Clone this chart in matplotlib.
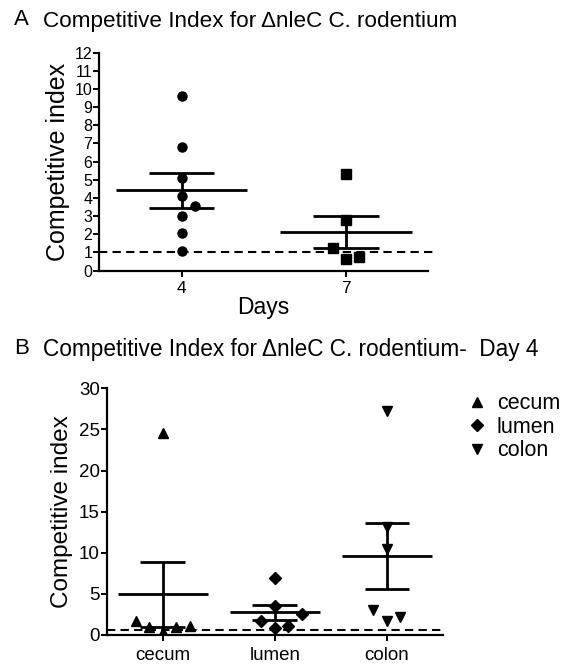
import numpy as np
import matplotlib
matplotlib.use("Agg")
import matplotlib.pyplot as plt
from matplotlib.lines import Line2D

plt.rcParams['font.family'] = ['Liberation Sans', 'DejaVu Sans']

# panel A: competitive index by day
days = ['4', '7']
day4 = [9.62, 6.81, 5.11, 4.12, 3.57, 3.00, 2.05, 1.05]
day7 = [5.30, 2.78, 1.25, 0.66, 0.72]
day4_jitter = [0, 0, 0, 0, 0.08, 0, 0, 0]
day7_jitter = [0, 0, -0.08, 0, 0.08]
cutoff_a = 1.0

# panel B: day 4 by site
sites = ['cecum', 'lumen', 'colon']
cecum = [24.6, 1.65, 1.0, 0.4, 0.93, 1.05]
lumen = [6.95, 3.5, 1.65, 2.5, 0.85, 1.05]
colon = [27.3, 13.1, 10.5, 3.05, 1.7, 2.2]
cecum_jitter = [0, -0.24, -0.12, 0, 0.12, 0.24]
lumen_jitter = [0, 0, -0.12, 0.24, 0, 0.12]
colon_jitter = [0, 0, 0, -0.12, 0, 0.12]
cutoff_b = 0.6


def mean_sem(ax, x, vals, half_mean=0.4, half_cap=0.2, lw=2.0):
    v = np.asarray(vals)
    m = v.mean()
    s = v.std(ddof=1) / np.sqrt(len(v))
    ax.hlines(m, x - half_mean, x + half_mean, colors='black', lw=lw, zorder=2)
    ax.hlines([m - s, m + s], x - half_cap, x + half_cap, colors='black', lw=lw, zorder=2)
    ax.vlines(x, m - s, m + s, colors='black', lw=lw, zorder=2)


def style(ax):
    for side in ['top', 'right']:
        ax.spines[side].set_visible(False)
    for side in ['left', 'bottom']:
        ax.spines[side].set_linewidth(1.6)
    ax.tick_params(width=1.4, length=4, direction='out')


fig = plt.figure(figsize=(5.69, 6.64), dpi=100)

# ---- A ----
ax1 = fig.add_axes([0.1745, 0.5926, 0.578, 0.3282])
for i, (vals, jit, mk) in enumerate([(day4, day4_jitter, 'o'), (day7, day7_jitter, 's')]):
    ax1.plot(i + np.array(jit), vals, mk, color='black', ms=6.5, ls='none', zorder=3)
    mean_sem(ax1, i, vals)
ax1.plot([-0.5, 1.53], [cutoff_a, cutoff_a], ls=(0, (4, 2.5)), color='black', lw=1.5,
         clip_on=False, zorder=1)
ax1.set_xlim(-0.5, 1.5)
ax1.set_ylim(0, 12)
ax1.set_yticks(range(0, 13))
ax1.set_xticks([0, 1])
ax1.set_xticklabels(days)
style(ax1)
ax1.tick_params(axis='y', pad=1, labelsize=11.5)
ax1.tick_params(axis='x', labelsize=12.5)
ax1.set_ylabel('Competitive index', fontsize=18, labelpad=3)
ax1.set_xlabel('Days', fontsize=16.5, labelpad=0)
fig.text(0.024, 0.970, 'A', fontsize=16, va='center')
fig.text(0.076, 0.968, 'Competitive Index for \u0394nleC C. rodentium', fontsize=16.2, va='center')

# ---- B ----
ax2 = fig.add_axes([0.1875, 0.0437, 0.591, 0.3715])
groups = [(cecum, cecum_jitter, '^'), (lumen, lumen_jitter, 'D'), (colon, colon_jitter, 'v')]
handles = []
for i, (vals, jit, mk) in enumerate(groups):
    ms = 6 if mk == 'D' else 7
    ax2.plot(i + np.array(jit), vals, mk, color='black', ms=ms, ls='none', zorder=3)
    mean_sem(ax2, i, vals)
    handles.append(Line2D([], [], marker=mk, color='black', ls='none', ms=ms, label=sites[i]))
ax2.plot([-0.5, 2.52], [cutoff_b, cutoff_b], ls=(0, (4, 2.5)), color='black', lw=1.5,
         clip_on=False, zorder=1)
ax2.set_xlim(-0.5, 2.5)
ax2.set_ylim(0, 30)
ax2.set_yticks(range(0, 31, 5))
ax2.set_xticks([0, 1, 2])
ax2.set_xticklabels(sites)
style(ax2)
ax2.tick_params(axis='y', pad=1, labelsize=13.5)
ax2.tick_params(axis='x', pad=5, labelsize=13.5)
ax2.set_ylabel('Competitive index', fontsize=17.5, labelpad=4)
fig.text(0.024, 0.475, 'B', fontsize=16, va='center')
fig.text(0.076, 0.473, 'Competitive Index for \u0394nleC C. rodentium-  Day 4', fontsize=16.3,
         va='center')
fig.legend(handles=handles, loc='upper left', bbox_to_anchor=(0.79, 0.437),
           frameon=False, handlelength=0.8, handletextpad=0.5, labelspacing=0.12,
           prop={'size': 15.5})

fig.savefig('out.png', dpi=100)
